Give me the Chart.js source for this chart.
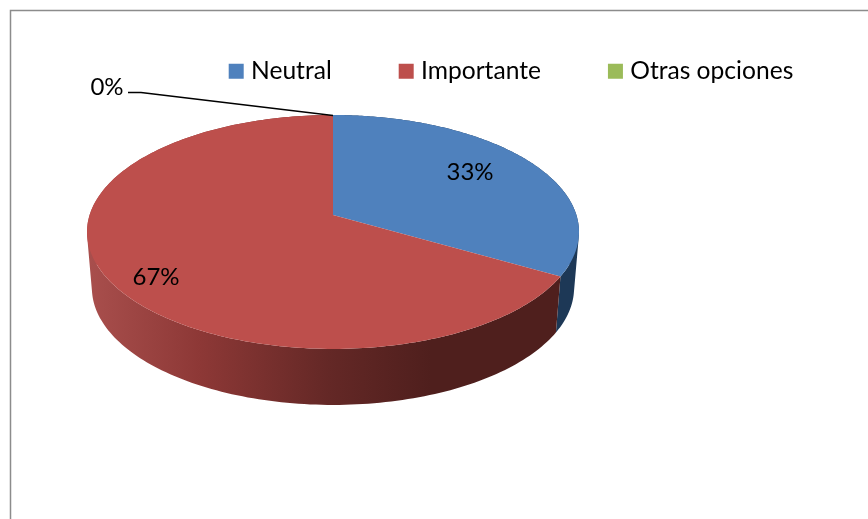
<!DOCTYPE html>
<html>
<head>
<meta charset="utf-8">
<style>
html,body{margin:0;padding:0;background:#fff;overflow:hidden}
canvas{display:block}
</style>
<script src="https://cdn.jsdelivr.net/npm/chart.js@4/dist/chart.umd.min.js"></script>
</head>
<body>
<canvas id="c" width="868" height="519"></canvas>
<script>
const categories = ["Neutral", "Importante", "Otras opciones"];
const values = [33.3, 66.7, 0];

const topColors = ["#4f81bd", "#bd4f4c", "#9bbb59"];
const labelFont = '24px Lato, sans-serif';
const labelSpots = [[470, 172], [156, 277], [107, 87]];

// Perspective projection of the pie's disc onto the page
const view = {x0: 333, y0: 215, a: 243.4, b: 114.5, p: -0.145, depth: 56, shrink: 0.98};
function rimTop(t) {
  const u = Math.cos(t), v = Math.sin(t), w = 1 + view.p * v;
  return [view.x0 + view.a * u / w, view.y0 + view.b * v / w];
}
function rimBottom(t) {
  const q = rimTop(t);
  return [view.x0 + (q[0] - view.x0) * view.shrink, q[1] + view.depth];
}
function wallFill(ctx, i) {
  if (i === 0) return "#1d3856";
  if (i === 2) return "#5f7530";
  const g = ctx.createLinearGradient(87, 0, 579, 0);
  g.addColorStop(0, "#a94f4d");
  g.addColorStop(0.23, "#8d3836");
  g.addColorStop(0.49, "#642826");
  g.addColorStop(0.70, "#4f1f1d");
  g.addColorStop(1, "#4f1f1d");
  return g;
}
function addQuad(ctx, pts) {
  let area = 0;
  pts.forEach((p, k) => {
    const q = pts[(k + 1) % pts.length];
    area += p[0] * q[1] - q[0] * p[1];
  });
  const list = area < 0 ? pts.slice().reverse() : pts;
  list.forEach((p, k) => k ? ctx.lineTo(p[0], p[1]) : ctx.moveTo(p[0], p[1]));
  ctx.closePath();
}

const pie3d = {
  id: "pie3d",
  beforeDatasetsDraw(chart) {
    const ctx = chart.ctx;
    const arcs = chart.getDatasetMeta(0).data;
    const steps = 200;
    ctx.save();
    // side walls
    arcs.forEach((arc, i) => {
      const span = arc.endAngle - arc.startAngle;
      if (span <= 0) return;
      ctx.beginPath();
      for (let k = 0; k < steps; k++) {
        const t1 = arc.startAngle + span * k / steps;
        const t2 = arc.startAngle + span * (k + 1) / steps;
        addQuad(ctx, [rimTop(t1), rimTop(t2), rimBottom(t2), rimBottom(t1)]);
      }
      ctx.fillStyle = wallFill(ctx, i);
      ctx.fill();
    });
    // top faces
    arcs.forEach((arc, i) => {
      const span = arc.endAngle - arc.startAngle;
      if (span <= 0) return;
      ctx.beginPath();
      ctx.moveTo(view.x0, view.y0);
      for (let k = 0; k <= steps; k++) {
        const p = rimTop(arc.startAngle + span * k / steps);
        ctx.lineTo(p[0], p[1]);
      }
      ctx.closePath();
      ctx.fillStyle = topColors[i];
      ctx.fill();
    });
    // leader for the empty slice
    ctx.beginPath();
    ctx.moveTo(128, 92.5);
    ctx.lineTo(141, 92.5);
    ctx.lineTo(333, 115.5);
    ctx.strokeStyle = "#000";
    ctx.lineWidth = 1.4;
    ctx.stroke();
    // percentage labels
    const total = values.reduce((a, b) => a + b, 0);
    ctx.font = labelFont;
    ctx.fillStyle = "#000";
    ctx.textAlign = "center";
    ctx.textBaseline = "middle";
    values.forEach((val, i) => {
      ctx.fillText(Math.round(val / total * 100) + "%", labelSpots[i][0], labelSpots[i][1]);
    });
    ctx.restore();
    return false;
  }
};

const frame = {
  id: "frame",
  beforeDraw(chart) {
    const ctx = chart.ctx;
    ctx.save();
    ctx.beginPath();
    ctx.moveTo(10.5, 519);
    ctx.lineTo(10.5, 10.5);
    ctx.lineTo(868, 10.5);
    ctx.strokeStyle = "#8c8c8c";
    ctx.lineWidth = 1.5;
    ctx.stroke();
    ctx.restore();
  }
};

new Chart(document.getElementById("c"), {
  type: "pie",
  data: {
    labels: categories,
    datasets: [{data: values, backgroundColor: topColors, borderWidth: 0}]
  },
  options: {
    responsive: false,
    animation: false,
    layout: {padding: {left: 159, top: -13}},
    plugins: {
      tooltip: {enabled: false},
      legend: {
        position: "top",
        labels: {
          usePointStyle: true,
          pointStyle: "rect",
          boxWidth: 5,
          boxHeight: 15,
          padding: 72,
          color: "#000",
          font: {family: "Lato, sans-serif", size: 24.6}
        }
      }
    }
  },
  plugins: [frame, pie3d]
});
</script>
</body>
</html>
